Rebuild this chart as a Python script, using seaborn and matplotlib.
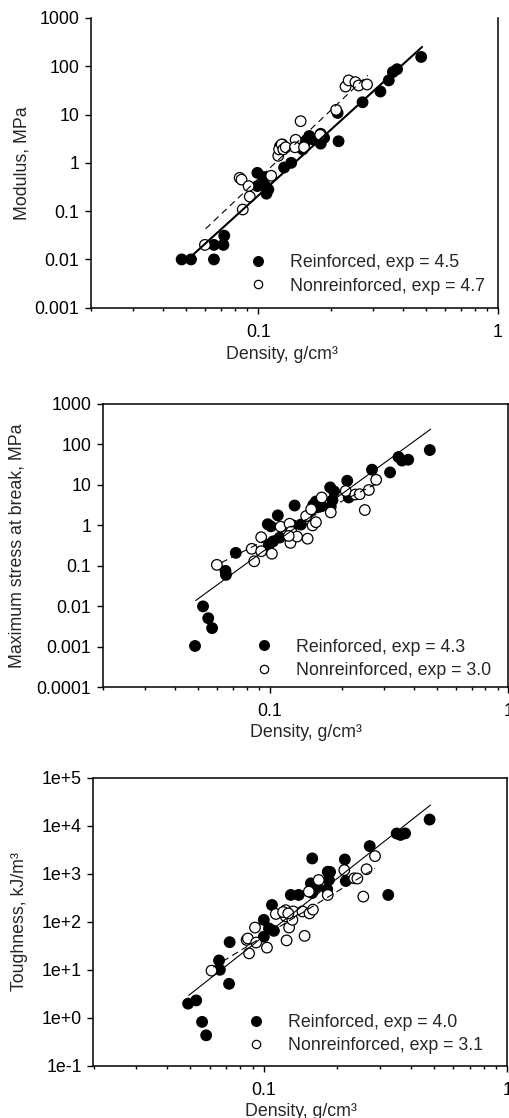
import numpy as np
import pandas as pd
import matplotlib
matplotlib.use("Agg")
import matplotlib.pyplot as plt
import seaborn as sns
from matplotlib.ticker import FixedLocator, FuncFormatter, NullFormatter, NullLocator, LogLocator

sns.set_theme(style="ticks")
plt.rcParams["font.family"] = ["Liberation Sans", "DejaVu Sans"]
plt.rcParams["font.size"] = 12.8

# ---------------- Modulus ----------------
mod_reinf_density = [0.0478, 0.0523, 0.0652, 0.0652, 0.0714, 0.0720, 0.099, 0.105, 0.099, 0.107,
                     0.108, 0.110, 0.128, 0.137, 0.123, 0.126, 0.155, 0.158, 0.163, 0.168,
                     0.153, 0.182, 0.182, 0.188, 0.214, 0.216, 0.272, 0.323, 0.350, 0.364,
                     0.379, 0.478]
mod_reinf_value = [0.010, 0.010, 0.010, 0.020, 0.020, 0.031, 0.62, 0.51, 0.33, 0.33,
                   0.23, 0.28, 0.80, 1.0, 2.2, 2.4, 2.3, 2.9, 3.6, 3.1,
                   1.9, 4.0, 2.5, 3.3, 10.8, 2.8, 18, 30, 51, 76,
                   87, 156]
mod_non_density = [0.0598, 0.0835, 0.085, 0.086, 0.091, 0.092, 0.113, 0.121, 0.122, 0.125,
                   0.127, 0.130, 0.143, 0.142, 0.150, 0.181, 0.211, 0.231, 0.238, 0.254,
                   0.262, 0.284, 0.155]
mod_non_value = [0.020, 0.49, 0.45, 0.108, 0.33, 0.20, 0.54, 1.4, 1.9, 2.4,
                 1.9, 2.1, 3.0, 2.1, 7.3, 3.8, 12.5, 38, 51, 47,
                 40, 42, 2.1]
mod_exp = [4.5, 4.7]
mod_log_coef = [3.826, 4.37]
mod_fit_range = [(0.0535, 0.482), (0.0602, 0.286)]

# ---------------- Maximum stress at break ----------------
str_reinf_density = [0.0486, 0.0525, 0.0552, 0.0573, 0.0652, 0.0655, 0.072, 0.098, 0.101, 0.099,
                     0.103, 0.110, 0.108, 0.127, 0.125, 0.135, 0.156, 0.152, 0.160, 0.165,
                     0.158, 0.179, 0.186, 0.180, 0.183, 0.211, 0.214, 0.268, 0.319, 0.346,
                     0.358, 0.380, 0.468]
str_reinf_value = [0.00105, 0.010, 0.0051, 0.0029, 0.0755, 0.060, 0.21, 1.07, 0.95, 0.33,
                   0.40, 0.50, 1.77, 3.1, 1.0, 1.05, 3.9, 3.2, 3.5, 3.0,
                   2.8, 8.7, 6.9, 2.9, 4.2, 12.7, 4.9, 23.8, 20.4, 48.9,
                   40, 42, 72.8]
str_non_density = [0.060, 0.084, 0.086, 0.092, 0.092, 0.102, 0.111, 0.121, 0.122, 0.123,
                   0.130, 0.144, 0.142, 0.151, 0.156, 0.149, 0.165, 0.180, 0.208, 0.228,
                   0.238, 0.260, 0.279, 0.250, 0.120]
str_non_value = [0.106, 0.264, 0.13, 0.51, 0.23, 0.20, 0.93, 1.1, 0.37, 0.70,
                 0.53, 0.47, 1.7, 1.0, 1.2, 2.5, 4.9, 2.1, 7.1, 5.8,
                 5.9, 7.5, 13.4, 2.4, 0.55]
str_exp = [4.3, 3.0]
str_log_coef = [3.78, 2.69]
str_fit_range = [(0.0489, 0.472), (0.0626, 0.277)]

# ---------------- Toughness ----------------
tou_reinf_density = [0.0489, 0.0528, 0.0558, 0.058, 0.0655, 0.066, 0.0724, 0.072, 0.100, 0.100,
                     0.105, 0.110, 0.108, 0.129, 0.139, 0.158, 0.156, 0.161, 0.158, 0.165,
                     0.183, 0.187, 0.185, 0.182, 0.215, 0.217, 0.272, 0.324, 0.351, 0.364,
                     0.380, 0.479]
tou_reinf_value = [1.97, 2.3, 0.82, 0.43, 15.7, 10, 37.7, 5.1, 110, 49,
                   73, 65, 225, 364, 364, 2100, 635, 500, 400, 550,
                   1110, 1100, 750, 480, 2000, 710, 3800, 364, 6960, 6500,
                   7000, 13600]
tou_non_density = [0.061, 0.085, 0.086, 0.087, 0.092, 0.093, 0.103, 0.112, 0.123, 0.123,
                   0.124, 0.127, 0.131, 0.132, 0.144, 0.147, 0.153, 0.154, 0.159, 0.168,
                   0.183, 0.214, 0.235, 0.242, 0.256, 0.264, 0.286, 0.120, 0.126]
tou_non_value = [9.6, 42, 45, 22, 76, 37, 29, 146, 175, 130,
                 41, 76, 110, 165, 165, 51, 427, 150, 180, 746,
                 364, 1200, 810, 800, 336, 1250, 2350, 160, 150]
tou_exp = [4.0, 3.1]
tou_log_coef = [5.70, 4.80]
tou_fit_range = [(0.0492, 0.483), (0.062, 0.286)]

group_names = ["Reinforced", "Nonreinforced"]

W, H = 510, 1118
fig = plt.figure(figsize=(W / 100, H / 100), dpi=100)


def px_axes(left, right, top, bottom):
    return fig.add_axes([left / W, (H - bottom) / H, (right - left) / W, (bottom - top) / H])


def draw_panel(ax, rx, ry, nx, ny, exps, log_coefs, fit_ranges, ylim, yticks, yfmt,
               ylabel, ylabel_x, xlabel_x, fit_lw, leg_anchor, top_spine=True):
    labels = [f"{g}, exp = {e:.1f}" for g, e in zip(group_names, exps)]
    df = pd.DataFrame({
        "density": list(rx) + list(nx),
        "value": list(ry) + list(ny),
        "group": [labels[0]] * len(rx) + [labels[1]] * len(nx),
    })
    ax.set_xscale("log")
    ax.set_yscale("log")
    sns.scatterplot(data=df, x="density", y="value", hue="group", hue_order=labels,
                    palette={labels[0]: "black", labels[1]: "white"},
                    edgecolor="black", linewidth=0.9, s=58, ax=ax, zorder=3)
    # power-law fits: value = 10**log_coef * density**exp
    styles = ["-", (0, (6, 4))]
    for exp, lc, (x0, x1), ls, lw in zip(exps, log_coefs, fit_ranges, styles, fit_lw):
        xs = np.geomspace(x0, x1, 50)
        ax.plot(xs, 10 ** lc * xs ** exp, color="black", ls=ls, lw=lw, zorder=4)

    ax.set_xlim(0.02, 1)
    ax.set_ylim(*ylim)
    ax.xaxis.set_major_locator(FixedLocator([0.01, 0.1, 1]))
    ax.xaxis.set_major_formatter(FuncFormatter(lambda v, p: f"{v:g}"))
    ax.xaxis.set_minor_locator(LogLocator(base=10, subs=np.arange(2, 10)))
    ax.xaxis.set_minor_formatter(NullFormatter())
    ax.yaxis.set_major_locator(FixedLocator(yticks))
    ax.yaxis.set_major_formatter(FuncFormatter(yfmt))
    ax.yaxis.set_minor_locator(NullLocator())
    ax.tick_params(axis="both", which="major", direction="out", length=4.5, width=1,
                   labelsize=12.8, color="black", labelcolor="black")
    ax.tick_params(axis="x", which="minor", direction="out", length=2.5, width=1, color="black")
    ax.tick_params(axis="y", which="major", pad=4)
    ax.tick_params(axis="x", which="major", pad=7)
    for name, sp in ax.spines.items():
        sp.set_linewidth(1.1)
        sp.set_color("black")
    ax.spines["top"].set_visible(top_spine)
    ax.spines["right"].set_visible(True)

    ax.set_xlabel("Density, g/cm³", fontsize=12.8)
    ax.xaxis.label.set_va("center")
    ax.xaxis.set_label_coords(xlabel_x, -0.16)
    ax.set_ylabel(ylabel, fontsize=12.8)
    ax.yaxis.label.set_va("center")
    ax.yaxis.set_label_coords(ylabel_x, 0.5)

    old = ax.get_legend()
    handles = old.legend_handles
    texts = [t.get_text() for t in old.get_texts()]
    old.remove()
    for h in handles:
        h.set_markeredgecolor("black")
        h.set_markeredgewidth(0.9)
    handles[0].set_markersize(7.0)
    handles[1].set_markersize(6.0)
    ax.legend(handles, texts, loc="lower left", bbox_to_anchor=leg_anchor, frameon=False,
              borderpad=0, borderaxespad=0, handlelength=2.0, handletextpad=0.8,
              labelspacing=0.35, fontsize=12.8)


fmt_plain = lambda v, p: f"{v:g}"
fmt_exp = lambda v, p: f"1e{int(round(np.log10(v))):+d}"

ax1 = px_axes(91, 498, 18, 307.7)
draw_panel(ax1, mod_reinf_density, mod_reinf_value, mod_non_density, mod_non_value,
           mod_exp, mod_log_coef, mod_fit_range, (0.001, 1000),
           [0.001, 0.01, 0.1, 1, 10, 100, 1000], fmt_plain,
           "Modulus, MPa", -0.170, 0.47, [1.5, 0.8], (0.366, 0.045), top_spine=False)

ax2 = px_axes(103, 508.5, 404, 687.3)
draw_panel(ax2, str_reinf_density, str_reinf_value, str_non_density, str_non_value,
           str_exp, str_log_coef, str_fit_range, (0.0001, 1000),
           [0.0001, 0.001, 0.01, 0.1, 1, 10, 100, 1000], fmt_plain,
           "Maximum stress at break, MPa", -0.212, 0.50, [0.8, 0.8], (0.353, 0.03))

ax3 = px_axes(93.5, 507.5, 778, 1065.7)
draw_panel(ax3, tou_reinf_density, tou_reinf_value, tou_non_density, tou_non_value,
           tou_exp, tou_log_coef, tou_fit_range, (0.1, 1e5),
           [0.1, 1, 10, 100, 1e3, 1e4, 1e5], fmt_exp,
           "Toughness, kJ/m³", -0.178, 0.50, [0.8, 0.8], (0.349, 0.04))

fig.savefig("out.png", dpi=100)
